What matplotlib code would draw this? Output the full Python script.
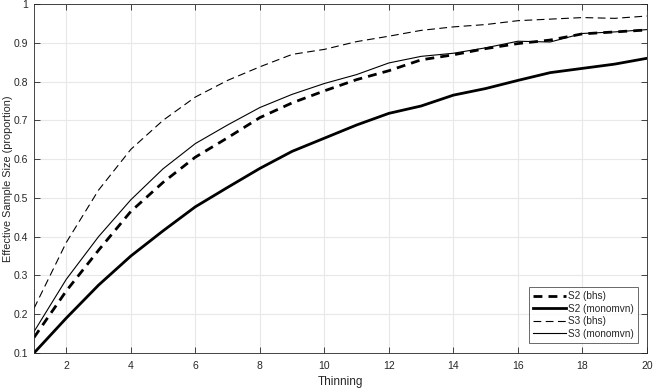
import matplotlib
matplotlib.use("Agg")
import matplotlib.pyplot as plt

plt.rcParams["font.family"] = ["Liberation Sans", "DejaVu Sans"]

thinning = list(range(1, 21))
s2_bhs = [0.14, 0.26, 0.365, 0.465, 0.54, 0.605, 0.655, 0.707, 0.745, 0.776,
          0.805, 0.828, 0.856, 0.869, 0.885, 0.898, 0.907, 0.923, 0.928, 0.933]
s2_mono = [0.10, 0.19, 0.275, 0.35, 0.415, 0.477, 0.527, 0.576, 0.62, 0.654,
           0.688, 0.718, 0.737, 0.765, 0.782, 0.803, 0.823, 0.834, 0.845, 0.86]
s3_bhs = [0.215, 0.385, 0.52, 0.625, 0.70, 0.76, 0.803, 0.838, 0.87, 0.883,
          0.903, 0.917, 0.932, 0.941, 0.947, 0.957, 0.961, 0.965, 0.963, 0.969]
s3_mono = [0.155, 0.29, 0.40, 0.495, 0.575, 0.64, 0.688, 0.733, 0.767, 0.795,
           0.818, 0.848, 0.865, 0.873, 0.887, 0.904, 0.902, 0.924, 0.928, 0.934]

fig = plt.figure(figsize=(6.54, 3.89), dpi=100)
ax = fig.add_axes([34/654, 1-353/389, (647-34)/654, (353-4)/389])

ax.plot(thinning, s2_bhs, color="k", lw=2.0, ls=(0, (3.2, 2.2)), label="S2 (bhs)")
ax.plot(thinning, s2_mono, color="k", lw=2.0, ls="-", label="S2 (monomvn)")
ax.plot(thinning, s3_bhs, color="k", lw=0.8, ls=(0, (7, 4)), label="S3 (bhs)")
ax.plot(thinning, s3_mono, color="k", lw=0.8, ls="-", label="S3 (monomvn)")

ax.set_xlim(1, 20)
ax.set_ylim(0.1, 1)
ax.set_xticks(range(2, 21, 2))
ax.set_yticks([0.1, 0.2, 0.3, 0.4, 0.5, 0.6, 0.7, 0.8, 0.9, 1])
ax.set_yticklabels(["0.1", "0.2", "0.3", "0.4", "0.5", "0.6", "0.7", "0.8", "0.9", "1"])
ax.grid(True, color="#e8e8e8", lw=0.8)
ax.set_axisbelow(True)
ax.tick_params(direction="in", top=True, right=True, length=4, width=0.6,
               colors="#262626", labelsize=7.5)
ax.tick_params(axis="y", pad=4)
ax.tick_params(axis="x", pad=6)
for sp in ax.spines.values():
    sp.set_color("#262626")
    sp.set_linewidth(0.6)

ax.set_xlabel("Thinning", fontsize=8.5, color="#262626", labelpad=3)
ax.set_ylabel("Effective Sample Size (proportion)", fontsize=7.8, color="#262626", labelpad=1)

leg = ax.legend(loc="lower right", fontsize=7.2, frameon=True, fancybox=False,
                handlelength=3.3, handletextpad=0.2, borderpad=0.4, labelspacing=0.25,
                borderaxespad=0.0, bbox_to_anchor=(0.985, 0.03))
leg.get_frame().set_edgecolor("#262626")
leg.get_frame().set_linewidth(0.6)
for t in leg.get_texts():
    t.set_color("#262626")

fig.savefig("out.png", dpi=100)
